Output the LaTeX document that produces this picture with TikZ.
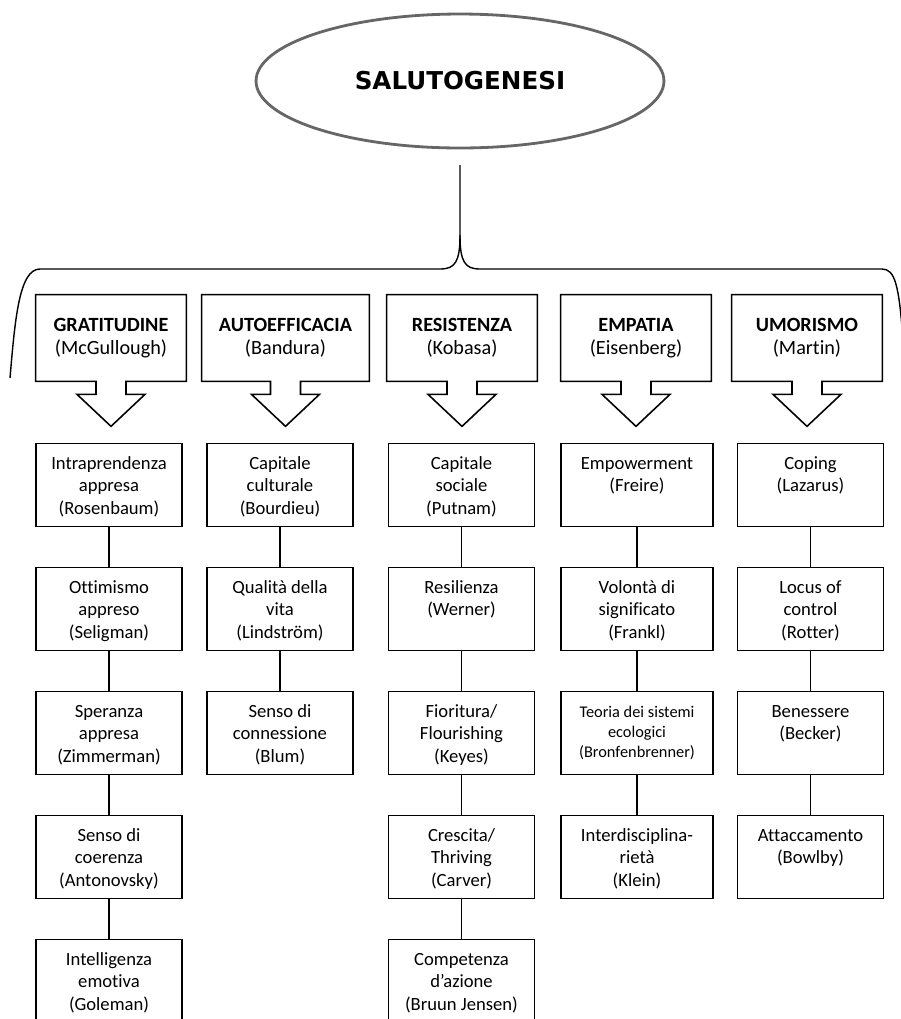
\documentclass[tikz,border=0pt]{standalone}
\usepackage{fontspec}
\setmainfont{Carlito}[Ligatures={TeX,NoCommon}]
\newfontfamily\titolofont{DejaVu Sans}
\usetikzlibrary{shapes.geometric,calc}

\tikzset{
  voce/.style={draw, line width=0.7pt, anchor=north, align=flush center,
    text width=2.7cm, inner xsep=0.11cm, inner ysep=6.5pt,
    text height=8pt, text depth=26pt, font=\fontsize{10.6}{12.8}\selectfont},
  testa/.style={align=flush center, text width=2.8cm, inner sep=0.1cm,
    minimum height=1.72cm, font=\fontsize{11.5}{13}\selectfont},
  bordo/.style={line width=0.9pt},
  legame/.style={line width=0.7pt},
}

\begin{document}
\begin{tikzpicture}[x=0.02cm,y=-0.02cm]
    \useasboundingbox (0,0) rectangle (901,1019);
    \clip (0,0) rectangle (901,1019);
    % Titolo
    \node[ellipse, draw=black!60, line width=1.6pt, minimum width=8.16cm, minimum height=2.68cm,
      font=\titolofont\bfseries\fontsize{14}{17}\selectfont] (salute) at (460,81) {SALUTOGENESI};
    % Graffa
    \coordinate (punta) at (460,165);
    \draw[line width=0.8pt] (10,378) .. controls (15,320) and (19,269) .. (40,269) -- (440,269)
      .. controls (455,269) and (460,262) .. (460,235) -- (punta);
    \draw[line width=0.8pt] (460,235) .. controls (460,262) and (465,269) .. (480,269) -- (882,269)
      .. controls (895,269) and (899,285) .. (903,340);
    % Testate con freccia
    \foreach \nome/\autore/\x/\w [count=\i] in {GRATITUDINE/McGullough/111/2.8cm,
        AUTOEFFICACIA/Bandura/285.5/3.14cm, RESISTENZA/Kobasa/462/2.8cm,
        EMPATIA/Eisenberg/636/2.8cm, UMORISMO/Martin/807/2.8cm}{
      \node[testa, text width=\w] (t\i) at (\x,338) {\textbf{\nome}\\(\autore)};
      \draw[bordo] (t\i.south west) -- (t\i.north west) -- (t\i.north east) -- (t\i.south east)
        -- ($(t\i.south)+(15,0)$) -- ++(0,13) -- ++(19,0) -- ($(t\i.south)+(0,45)$)
        -- ($(t\i.south)+(-34,13)$) -- ++(19,0) -- ++(0,-13) -- cycle;
    }
    % Voci
    \def\alto{443}
    \def\passo{124}
    \foreach \testo [count=\i] in {{Intraprendenza\\appresa\\(Rosenbaum)},
        {Ottimismo\\appreso\\(Seligman)}, {Speranza\\appresa\\(Zimmerman)},
        {Senso di\\coerenza\\(Antonovsky)}, {Intelligenza\\emotiva\\(Goleman)}}{
      \node[voce] (a\i) at (109,{\alto+\passo*(\i-1)}) {\testo};
    }
    \foreach \testo [count=\i] in {{Capitale\\culturale\\(Bourdieu)},
        {Qualità della\\vita\\(Lindström)}, {Senso di\\connessione\\(Blum)}}{
      \node[voce] (b\i) at (280,{\alto+\passo*(\i-1)}) {\testo};
    }
    \foreach \testo [count=\i] in {{Capitale\\sociale\\(Putnam)}, {Resilienza\\(Werner)},
        {Fioritura/\\Flourishing\\(Keyes)}, {Crescita/\\Thriving\\(Carver)},
        {Competenza\\d'azione\\(Bruun Jensen)}}{
      \node[voce] (c\i) at (461.5,{\alto+\passo*(\i-1)}) {\testo};
    }
    \foreach \testo [count=\i] in {{Empowerment\\(Freire)}, {Volontà di\\significato\\(Frankl)},
        {{\fontsize{9.3}{11.6}\selectfont Teoria dei sistemi\\ecologici\\(Bronfenbrenner)\endgraf}},
        {Interdisciplina-\\rietà\\(Klein)}}{
      \node[voce, text width=2.82cm] (d\i) at (637,{\alto+\passo*(\i-1)}) {\testo};
    }
    \foreach \testo [count=\i] in {{Coping\\(Lazarus)}, {Locus of\\control\\(Rotter)},
        {Benessere\\(Becker)}, {Attaccamento\\(Bowlby)}}{
      \node[voce] (e\i) at (810.5,{\alto+\passo*(\i-1)}) {\testo};
    }
    % Collegamenti
    \foreach \i [evaluate=\i as \j using int(\i+1)] in {1,...,4}
      \draw[legame] (a\i.south) -- (a\j.north) (c\i.south) -- (c\j.north);
    \foreach \i [evaluate=\i as \j using int(\i+1)] in {1,2}
      \draw[legame] (b\i.south) -- (b\j.north);
    \foreach \i [evaluate=\i as \j using int(\i+1)] in {1,2,3}
      \draw[legame] (d\i.south) -- (d\j.north) (e\i.south) -- (e\j.north);
  \end{tikzpicture}
\end{document}
